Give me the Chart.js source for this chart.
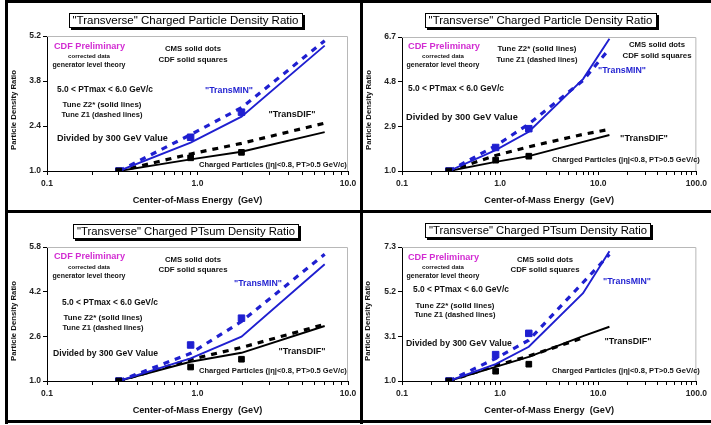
<!DOCTYPE html>
<html>
<head>
<meta charset="utf-8">
<script src="https://cdn.jsdelivr.net/npm/chart.js@4.4.0/dist/chart.umd.min.js"></script>
<style>
  body { margin: 0; background: #fff; width: 711px; height: 425px; overflow: hidden; position: relative; }
  canvas { position: absolute; }
  .bar { position: absolute; background: #000; }
</style>
</head>
<body>
<canvas id="c1" width="361" height="211" style="left:0;top:0"></canvas>
<canvas id="c2" width="349" height="211" style="left:362px;top:0"></canvas>
<canvas id="c3" width="361" height="211" style="left:0;top:212px"></canvas>
<canvas id="c4" width="349" height="211" style="left:362px;top:212px"></canvas>

<div class="bar" style="left:5px;top:0;width:706px;height:3px"></div>
<div class="bar" style="left:5px;top:0;width:3px;height:424px"></div>
<div class="bar" style="left:360px;top:0;width:3px;height:424px"></div>
<div class="bar" style="left:5px;top:210px;width:706px;height:3px"></div>
<div class="bar" style="left:5px;top:420px;width:706px;height:3px"></div>

<script>
const BLUE = "#1f1fd0";
const MAGENTA = "#d22cd2";
const FONT = '"Liberation Sans", Arial, sans-serif';

// energies (TeV) where the curves / data are given
const eTev = [0.3, 0.9, 1.96, 7];
const eLhc = [0.3, 0.9, 1.96, 7, 13];
const eCdf = [0.3, 0.9, 1.96];

// labelled decades on the x axis
const xMajorTev = [0.1, 1, 10];
const xMajorLhc = [0.1, 1, 10, 100];

// top left: charged particle density ratio
const yTicks1 = [1.0, 2.4, 3.8, 5.2];
const nchMinZ2a = [1.0, 1.88, 2.69, 4.9];
const nchMinZ1a = [1.0, 2.13, 2.97, 5.05];
const nchDifZ2a = [1.0, 1.36, 1.6, 2.21];
const nchDifZ1a = [1.0, 1.53, 1.86, 2.49];
const nchCdfMinA = [1.0, 2.05, 2.83];
const nchCdfDifA = [1.0, 1.41, 1.58];

// top right: same, extended to 13 TeV
const yTicks2 = [1.0, 2.9, 4.8, 6.7];
const nchMinZ2b = [1.0, 1.89, 2.67, 4.91, 6.63];
const nchMinZ1b = [1.0, 2.07, 3.0, 4.85, 6.2];
const nchDifZ2b = [1.0, 1.39, 1.63, 2.24, 2.53];
const nchDifZ1b = [1.0, 1.66, 2.03, 2.56, 2.77];
const nchCdfMinB = [1.0, 2.0, 2.8];
const nchCdfDifB = [1.0, 1.46, 1.63];

// bottom left: PTsum density ratio
const yTicks3 = [1.0, 2.6, 4.2, 5.8];
const ptMinZ2a = [1.0, 1.81, 2.59, 5.18];
const ptMinZ1a = [1.0, 1.99, 3.13, 5.54];
const ptDifZ2a = [1.0, 1.69, 2.01, 2.97];
const ptDifZ1a = [1.0, 1.77, 2.2, 3.03];
const ptCdfMinA = [1.0, 2.29, 3.25];
const ptCdfDifA = [1.0, 1.5, 1.78];

// bottom right: PTsum, extended to 13 TeV
const yTicks4 = [1.0, 3.1, 5.2, 7.3];
const ptMinZ2b = [1.0, 1.79, 2.61, 5.13, 7.1];
const ptMinZ1b = [1.0, 2.06, 2.92, 5.63, 6.95];
const ptDifZ2b = [1.0, 1.66, 2.13, 3.11, 3.55];
const ptDifZ1b = [1.0, 1.72, 2.17, 3.03];
const ptCdfMinB = [1.0, 2.24, 3.24];
const ptCdfDifB = [1.0, 1.46, 1.79];

function xy(xs, ys) {
  return ys.map((y, i) => ({ x: xs[i], y: y }));
}

// major decades plus the 2..9 minor ticks between them
function logTicks(major) {
  const out = [];
  for (let i = 0; i < major.length; i++) {
    out.push({ value: major[i] });
    if (i < major.length - 1) {
      for (let m = 2; m <= 9; m++) out.push({ value: +(m * major[i]).toPrecision(3) });
    }
  }
  return out;
}

// bold font scaled so the text spans w pixels
function fitFont(ctx, text, w, weight) {
  weight = weight || "bold";
  ctx.font = weight + " 10px " + FONT;
  const size = (10 * w) / ctx.measureText(text).width;
  ctx.font = weight + " " + size.toFixed(2) + "px " + FONT;
}

function textPlugin(p) {
  return {
    id: "panelText",
    beforeDatasetsDraw(chart) {
      const ctx = chart.ctx, a = chart.chartArea;
      ctx.save();
      ctx.strokeStyle = "#b8b8b8";
      ctx.lineWidth = 1;
      ctx.beginPath();
      ctx.moveTo(a.left, a.top + 0.5);
      ctx.lineTo(a.right - 0.5, a.top + 0.5);
      ctx.lineTo(a.right - 0.5, a.bottom);
      ctx.stroke();
      ctx.restore();
    },
    afterDraw(chart) {
      const ctx = chart.ctx, a = chart.chartArea;
      ctx.save();
      ctx.textBaseline = "middle";

      // boxed title with shadow
      fitFont(ctx, p.title, p.titleW, "normal");
      const bw = p.titleW + 8, bh = 15;
      const bx = Math.round(p.titleX - bw / 2), by = Math.round(p.titleY - bh / 2);
      ctx.fillStyle = "#000";
      ctx.fillRect(bx + 2, by + 2, bw, bh);
      ctx.fillStyle = "#fff";
      ctx.fillRect(bx, by, bw, bh);
      ctx.strokeStyle = "#000";
      ctx.lineWidth = 1;
      ctx.strokeRect(bx + 0.5, by + 0.5, bw - 1, bh - 1);
      ctx.fillStyle = "#000";
      ctx.textAlign = "center";
      ctx.fillText(p.title, p.titleX, p.titleY + 0.5);

      // annotations
      p.notes.forEach(n => {
        fitFont(ctx, n.t, n.w);
        ctx.fillStyle = n.c || "#111";
        ctx.textAlign = n.a || "center";
        ctx.fillText(n.t, n.x, n.y);
      });

      // axis titles
      ctx.fillStyle = "#111";
      ctx.textAlign = "center";
      fitFont(ctx, "Center-of-Mass Energy  (GeV)", 130);
      ctx.fillText("Center-of-Mass Energy  (GeV)", (a.left + a.right) / 2, a.bottom + 29);
      ctx.translate(p.yTitleX, p.yTitleY);
      ctx.rotate(-Math.PI / 2);
      fitFont(ctx, "Particle Density Ratio", 80);
      ctx.fillText("Particle Density Ratio", 0, 0);
      ctx.restore();
    },
  };
}

function makePanel(id, p) {
  const canvas = document.getElementById(id);
  const W = canvas.width, H = canvas.height;
  const tickFont = { family: FONT, size: 8.5, weight: "bold" };
  const line = (xs, ys, color, dashed) => ({
    data: xy(xs, ys),
    showLine: true,
    borderColor: color,
    borderWidth: dashed ? 3.2 : 1.9,
    borderDash: dashed ? [6, 6] : [],
    pointRadius: 0,
    tension: 0,
  });
  const marks = (ys, color, r) => ({
    data: xy(eCdf, ys),
    showLine: false,
    pointStyle: "rect",
    pointRadius: r,
    backgroundColor: color,
    borderColor: color,
  });

  new Chart(canvas, {
    type: "scatter",
    data: {
      datasets: [
        marks(p.cdfDif, "#000", 4),
        marks(p.cdfMin, BLUE, 4.6),
        line(p.eMin, p.minZ2, BLUE, false),
        line(p.eMin, p.minZ1, BLUE, true),
        line(p.eDif, p.difZ2, "#000", false),
        line(p.eDifZ1 || p.eDif, p.difZ1, "#000", true),
      ],
    },
    options: {
      responsive: false,
      animation: false,
      layout: { padding: { left: 0, top: p.area.t, right: W - p.area.r, bottom: 0 } },
      plugins: { legend: { display: false }, tooltip: { enabled: false } },
      scales: {
        x: {
          type: "logarithmic",
          min: 0.1,
          max: p.xMajor[p.xMajor.length - 1],
          afterBuildTicks: s => { s.ticks = logTicks(p.xMajor); },
          afterFit: s => { s.height = H - p.area.b; },
          border: { color: "#000", width: 1 },
          grid: { drawOnChartArea: false, color: "#000", tickLength: 4 },
          ticks: {
            autoSkip: false,
            maxRotation: 0,
            padding: 4,
            color: "#222",
            font: tickFont,
            callback: v => (p.xMajor.some(m => Math.abs(m - v) < 1e-9) ? v.toFixed(1) : ""),
          },
        },
        y: {
          min: p.yTicks[0],
          max: p.yTicks[p.yTicks.length - 1],
          afterBuildTicks: s => { s.ticks = p.yTicks.map(v => ({ value: v })); },
          afterFit: s => { s.width = p.area.l; },
          border: { color: "#000", width: 1 },
          grid: { drawOnChartArea: false, color: "#000", tickLength: 4 },
          ticks: { padding: 2, color: "#222", font: tickFont, callback: v => v.toFixed(1) },
        },
      },
    },
    plugins: [textPlugin(p)],
  });
}

const CHG = "Charged Particles (|η|<0.8, PT>0.5 GeV/c)";

makePanel("c1", {
  area: { l: 47, r: 348, t: 36, b: 171 },
  xMajor: xMajorTev, yTicks: yTicks1,
  eMin: eTev, eDif: eTev,
  minZ2: nchMinZ2a, minZ1: nchMinZ1a, difZ2: nchDifZ2a, difZ1: nchDifZ1a,
  cdfMin: nchCdfMinA, cdfDif: nchCdfDifA,
  title: '"Transverse" Charged Particle Density Ratio', titleX: 185.5, titleY: 20, titleW: 226,
  yTitleX: 14, yTitleY: 110,
  notes: [
    { t: "CDF Preliminary", x: 54, y: 46, w: 71, c: MAGENTA, a: "left" },
    { t: "corrected data", x: 89, y: 56, w: 42 },
    { t: "generator level theory", x: 89, y: 65, w: 73 },
    { t: "CMS solid dots", x: 193, y: 49, w: 56 },
    { t: "CDF solid squares", x: 193, y: 60, w: 69 },
    { t: "5.0 < PTmax < 6.0 GeV/c", x: 57, y: 90, w: 96, a: "left" },
    { t: "Tune Z2* (solid lines)", x: 102, y: 105, w: 79 },
    { t: "Tune Z1 (dashed lines)", x: 102, y: 115, w: 81 },
    { t: '"TransMIN"', x: 229, y: 91, w: 48, c: BLUE },
    { t: "Divided by 300 GeV Value", x: 57, y: 138, w: 111, a: "left" },
    { t: '"TransDIF"', x: 292, y: 115, w: 47 },
    { t: CHG, x: 199, y: 165, w: 148, a: "left" },
  ],
});

makePanel("c2", {
  area: { l: 40, r: 338, t: 37, b: 171 },
  xMajor: xMajorLhc, yTicks: yTicks2,
  eMin: eLhc, eDif: eLhc,
  minZ2: nchMinZ2b, minZ1: nchMinZ1b, difZ2: nchDifZ2b, difZ1: nchDifZ1b,
  cdfMin: nchCdfMinB, cdfDif: nchCdfDifB,
  title: '"Transverse" Charged Particle Density Ratio', titleX: 178.5, titleY: 20, titleW: 224,
  yTitleX: 7, yTitleY: 110,
  notes: [
    { t: "CDF Preliminary", x: 46, y: 46, w: 72, c: MAGENTA, a: "left" },
    { t: "corrected data", x: 81, y: 56, w: 42 },
    { t: "generator level theory", x: 81, y: 65, w: 73 },
    { t: "Tune Z2* (solid lines)", x: 175, y: 49, w: 79 },
    { t: "Tune Z1 (dashed lines)", x: 175, y: 60, w: 81 },
    { t: "CMS solid dots", x: 295, y: 45, w: 56 },
    { t: "CDF solid squares", x: 295, y: 56, w: 69 },
    { t: '"TransMIN"', x: 260, y: 71, w: 48, c: BLUE },
    { t: "5.0 < PTmax < 6.0 GeV/c", x: 46, y: 89, w: 96, a: "left" },
    { t: "Divided by 300 GeV Value", x: 44, y: 117, w: 112, a: "left" },
    { t: '"TransDIF"', x: 282, y: 138, w: 48 },
    { t: CHG, x: 190, y: 160, w: 148, a: "left" },
  ],
});

makePanel("c3", {
  area: { l: 47, r: 348, t: 35, b: 169 },
  xMajor: xMajorTev, yTicks: yTicks3,
  eMin: eTev, eDif: eTev,
  minZ2: ptMinZ2a, minZ1: ptMinZ1a, difZ2: ptDifZ2a, difZ1: ptDifZ1a,
  cdfMin: ptCdfMinA, cdfDif: ptCdfDifA,
  title: '"Transverse" Charged PTsum Density Ratio', titleX: 186, titleY: 19, titleW: 218,
  yTitleX: 14, yTitleY: 109,
  notes: [
    { t: "CDF Preliminary", x: 54, y: 44, w: 71, c: MAGENTA, a: "left" },
    { t: "corrected data", x: 89, y: 55, w: 42 },
    { t: "generator level theory", x: 89, y: 64, w: 73 },
    { t: "CMS solid dots", x: 193, y: 48, w: 56 },
    { t: "CDF solid squares", x: 193, y: 58, w: 69 },
    { t: '"TransMIN"', x: 258, y: 72, w: 48, c: BLUE },
    { t: "5.0 < PTmax < 6.0 GeV/c", x: 62, y: 91, w: 96, a: "left" },
    { t: "Tune Z2* (solid lines)", x: 103, y: 106, w: 79 },
    { t: "Tune Z1 (dashed lines)", x: 103, y: 116, w: 81 },
    { t: "Divided by 300 GeV Value", x: 53, y: 142, w: 105, a: "left" },
    { t: '"TransDIF"', x: 302, y: 140, w: 47 },
    { t: CHG, x: 199, y: 159, w: 148, a: "left" },
  ],
});

makePanel("c4", {
  area: { l: 40, r: 338, t: 35, b: 169 },
  xMajor: xMajorLhc, yTicks: yTicks4,
  eMin: eLhc, eDif: eLhc, eDifZ1: eTev,
  minZ2: ptMinZ2b, minZ1: ptMinZ1b, difZ2: ptDifZ2b, difZ1: ptDifZ1b,
  cdfMin: ptCdfMinB, cdfDif: ptCdfDifB,
  title: '"Transverse" Charged PTsum Density Ratio', titleX: 176, titleY: 18.5, titleW: 218,
  yTitleX: 6, yTitleY: 109,
  notes: [
    { t: "CDF Preliminary", x: 46, y: 45, w: 71, c: MAGENTA, a: "left" },
    { t: "corrected data", x: 81, y: 55, w: 42 },
    { t: "generator level theory", x: 81, y: 64, w: 73 },
    { t: "CMS solid dots", x: 183, y: 48, w: 56 },
    { t: "CDF solid squares", x: 183, y: 58, w: 69 },
    { t: '"TransMIN"', x: 265, y: 70, w: 48, c: BLUE },
    { t: "5.0 < PTmax < 6.0 GeV/c", x: 51, y: 78, w: 96, a: "left" },
    { t: "Tune Z2* (solid lines)", x: 93, y: 94, w: 79 },
    { t: "Tune Z1 (dashed lines)", x: 93, y: 103, w: 81 },
    { t: "Divided by 300 GeV Value", x: 44, y: 132, w: 106, a: "left" },
    { t: '"TransDIF"', x: 266, y: 130, w: 47 },
    { t: CHG, x: 190, y: 159, w: 148, a: "left" },
  ],
});
</script>
</body>
</html>
